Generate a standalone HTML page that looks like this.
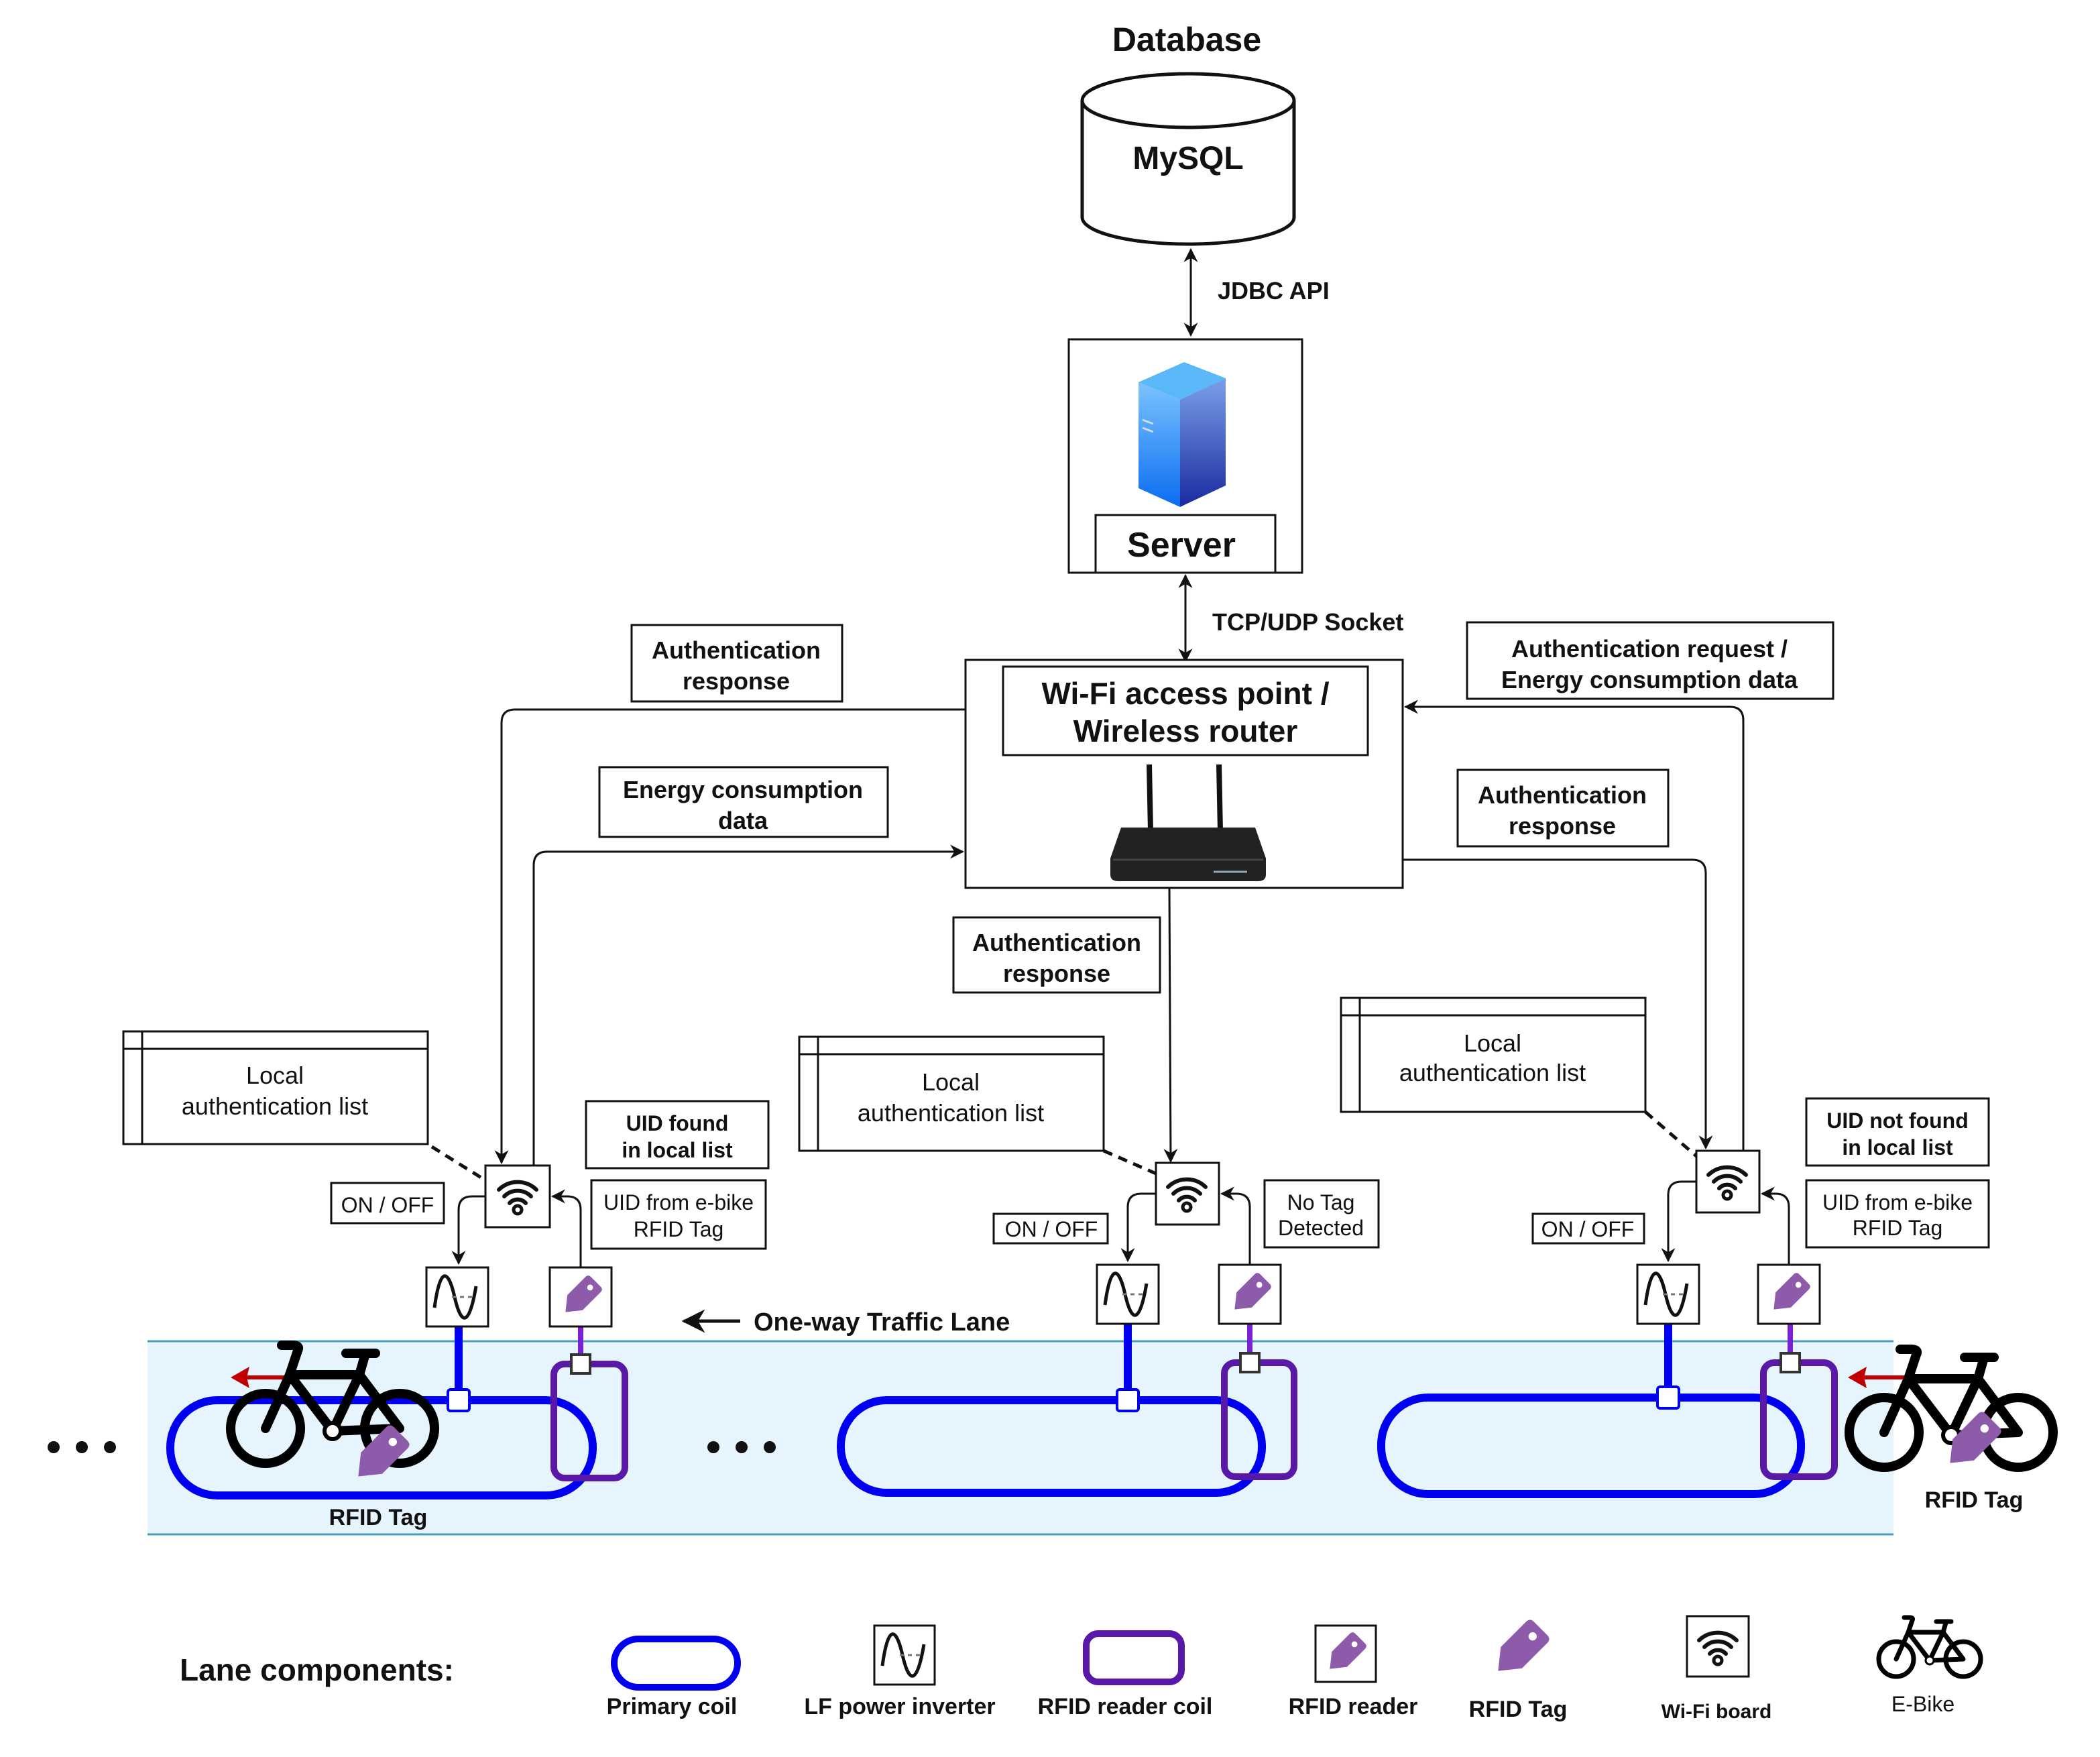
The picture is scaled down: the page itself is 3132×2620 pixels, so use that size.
<!DOCTYPE html>
<html><head><meta charset="utf-8"><style>
html,body{margin:0;padding:0;background:#fff}
svg{display:block}
text{font-family:"Liberation Sans",Arial,sans-serif;fill:#111}
.b{font-weight:bold}
</style></head><body>
<svg width="3132" height="2620" viewBox="0 0 1566 1310" xmlns="http://www.w3.org/2000/svg">
<defs>
<marker id="ar" viewBox="0 0 10 10" refX="9" refY="5" markerWidth="7" markerHeight="7" orient="auto-start-reverse"><path d="M0,0 L10,5 L0,10 L3,5 Z" fill="#111"/></marker>
<linearGradient id="gf" x1="0" y1="0" x2="0" y2="1"><stop offset="0" stop-color="#7aa0e8"/><stop offset="1" stop-color="#1a2aa0"/></linearGradient>
<linearGradient id="gs" x1="0" y1="0" x2="0" y2="1"><stop offset="0" stop-color="#7cc4ff"/><stop offset="1" stop-color="#0a6cf0"/></linearGradient>
<g id="wifi"><path d="M-14,-3 A20,20 0 0 1 14,-3" fill="none" stroke="#111" stroke-width="3" stroke-linecap="round"/><path d="M-10,2 A14,14 0 0 1 10,2" fill="none" stroke="#111" stroke-width="3" stroke-linecap="round"/><path d="M-6,7 A8,8 0 0 1 6,7" fill="none" stroke="#111" stroke-width="3" stroke-linecap="round"/><circle cx="0" cy="12" r="3" fill="none" stroke="#111" stroke-width="2.5"/></g>
<g id="sine"><path d="M-17,8 C-13,-22 -7,-22 -2,0 C3,22 9,22 14,-8" fill="none" stroke="#111" stroke-width="2.5"/><line x1="-4" y1="0" x2="14" y2="0" stroke="#777" stroke-width="1.5" stroke-dasharray="3 3"/></g>
<g id="tag"><g transform="rotate(45)"><path d="M-8,-13 Q-8,-16 -5,-16 L5,-16 Q8,-16 8,-13 L8,6 L0,16 L-8,6 Z" fill="#8e5aaa"/><circle cx="0" cy="-10" r="2.2" fill="#fff"/></g></g>
<g id="bike" fill="none" stroke="#000" stroke-width="7" stroke-linejoin="round" stroke-linecap="round"><circle cx="0" cy="0" r="26"/><circle cx="100" cy="0" r="26"/><path d="M0,0 L50,2 L30,-40 Z"/><path d="M50,2 L82,-40 L30,-40"/><path d="M82,-40 L100,0"/><path d="M30,-40 L26,-54"/><path d="M18,-56 L40,-56"/><path d="M82,-40 L76,-58 Q74,-62 80,-62 L88,-62"/><circle cx="50" cy="2" r="6" stroke-width="3" fill="#fff"/></g>
</defs>

<!-- Database -->
<text x="885" y="38" text-anchor="middle" class="b" font-size="25">Database</text>
<path d="M807,75 L807,162 A79,20 0 0 0 965,162 L965,75" fill="#fff" stroke="#111" stroke-width="2.5"/>
<ellipse cx="886" cy="75" rx="79" ry="20" fill="#fff" stroke="#111" stroke-width="2.5"/>
<text x="886" y="126" text-anchor="middle" class="b" font-size="24">MySQL</text>
<line x1="888" y1="186" x2="888" y2="250" stroke="#111" stroke-width="1.5" marker-start="url(#ar)" marker-end="url(#ar)"/>
<text x="908" y="223" class="b" font-size="18">JDBC API</text>

<!-- Server -->
<rect x="797" y="253" width="174" height="174" fill="#fff" stroke="#111" stroke-width="1.5"/>
<polygon points="849,285 883,270 914,282 880,298" fill="#5ab8f8"/>
<polygon points="849,285 880,298 880,378 849,364" fill="url(#gs)"/>
<polygon points="880,298 914,282 914,362 880,378" fill="url(#gf)"/>
<line x1="852" y1="313" x2="860" y2="316" stroke="#cde" stroke-width="1.5"/><line x1="852" y1="319" x2="860" y2="322" stroke="#cde" stroke-width="1.5"/>
<rect x="817" y="384" width="134" height="43" fill="#fff" stroke="#111" stroke-width="1.5"/>
<text x="881" y="415" text-anchor="middle" class="b" font-size="26">Server</text>
<line x1="884" y1="429" x2="884" y2="493" stroke="#111" stroke-width="1.5" marker-start="url(#ar)" marker-end="url(#ar)"/>
<text x="904" y="470" class="b" font-size="18">TCP/UDP Socket</text>

<!-- Router -->
<rect x="720" y="492" width="326" height="170" fill="#fff" stroke="#111" stroke-width="1.5"/>
<rect x="748" y="497" width="272" height="66" fill="#fff" stroke="#111" stroke-width="1.5"/>
<text x="884" y="525" text-anchor="middle" class="b" font-size="23">Wi-Fi access point /</text>
<text x="884" y="553" text-anchor="middle" class="b" font-size="23">Wireless router</text>
<line x1="857" y1="570" x2="858" y2="620" stroke="#111" stroke-width="4"/>
<line x1="909" y1="570" x2="910" y2="620" stroke="#111" stroke-width="4"/>
<path d="M836,617 L936,617 L944,640 L944,652 Q944,657 938,657 L834,657 Q828,657 828,652 L828,640 Z" fill="#222"/>
<line x1="830" y1="641" x2="942" y2="641" stroke="#444" stroke-width="1.5"/>
<line x1="905" y1="650" x2="930" y2="650" stroke="#8ab" stroke-width="1.5"/>

<!-- Top labels -->
<rect x="471" y="466" width="157" height="57" fill="#fff" stroke="#111" stroke-width="1.5"/>
<text x="549" y="491" text-anchor="middle" class="b" font-size="18">Authentication</text>
<text x="549" y="514" text-anchor="middle" class="b" font-size="18">response</text>
<rect x="447" y="572" width="215" height="52" fill="#fff" stroke="#111" stroke-width="1.5"/>
<text x="554" y="595" text-anchor="middle" class="b" font-size="18">Energy consumption</text>
<text x="554" y="618" text-anchor="middle" class="b" font-size="18">data</text>
<rect x="1094" y="464" width="273" height="57" fill="#fff" stroke="#111" stroke-width="1.5"/>
<text x="1230" y="490" text-anchor="middle" class="b" font-size="18">Authentication request /</text>
<text x="1230" y="513" text-anchor="middle" class="b" font-size="18">Energy consumption data</text>
<rect x="1087" y="574" width="157" height="57" fill="#fff" stroke="#111" stroke-width="1.5"/>
<text x="1165" y="599" text-anchor="middle" class="b" font-size="18">Authentication</text>
<text x="1165" y="622" text-anchor="middle" class="b" font-size="18">response</text>
<rect x="711" y="684" width="154" height="56" fill="#fff" stroke="#111" stroke-width="1.5"/>
<text x="788" y="709" text-anchor="middle" class="b" font-size="18">Authentication</text>
<text x="788" y="732" text-anchor="middle" class="b" font-size="18">response</text>

<!-- Connectors -->
<g fill="none" stroke="#111" stroke-width="1.5">
<path d="M720,529 L384,529 Q374,529 374,539 L374,867" marker-end="url(#ar)"/>
<path d="M398,869 L398,645 Q398,635 408,635 L718,635" marker-end="url(#ar)"/>
<path d="M1300,858 L1300,537 Q1300,527 1290,527 L1048,527" marker-end="url(#ar)"/>
<path d="M1046,641 L1262,641 Q1272,641 1272,651 L1272,856" marker-end="url(#ar)"/>
<path d="M872,662 L873,866" marker-end="url(#ar)"/>
</g>

<!-- Local lists -->
<g fill="#fff" stroke="#111" stroke-width="1.5">
<rect x="92" y="769" width="227" height="84"/><line x1="92" y1="782" x2="319" y2="782"/><line x1="106" y1="769" x2="106" y2="853"/>
<rect x="596" y="773" width="227" height="85"/><line x1="596" y1="786" x2="823" y2="786"/><line x1="610" y1="773" x2="610" y2="858"/>
<rect x="1000" y="744" width="227" height="85"/><line x1="1000" y1="757" x2="1227" y2="757"/><line x1="1014" y1="744" x2="1014" y2="829"/>
</g>
<g font-size="18" text-anchor="middle">
<text x="205" y="808">Local</text><text x="205" y="831">authentication list</text>
<text x="709" y="813">Local</text><text x="709" y="836">authentication list</text>
<text x="1113" y="784">Local</text><text x="1113" y="806">authentication list</text>
</g>
<g stroke="#111" stroke-width="2.5" stroke-dasharray="7 5">
<line x1="322" y1="855" x2="362" y2="880"/><line x1="823" y1="858" x2="862" y2="875"/><line x1="1227" y1="829" x2="1265" y2="862"/>
</g>

<!-- Lane -->
<rect x="110" y="1000" width="1302" height="144" fill="#e6f4fd"/>
<line x1="110" y1="1000" x2="1412" y2="1000" stroke="#4a9cc0" stroke-width="1.5"/>
<line x1="110" y1="1144" x2="1412" y2="1144" stroke="#4a9cc0" stroke-width="1.5"/>

<!-- Units -->
<g font-size="16" text-anchor="middle">
<!-- unit 1 -->
<rect x="247" y="882" width="84" height="30" fill="#fff" stroke="#111" stroke-width="1.5"/><text x="289" y="904">ON / OFF</text>
<rect x="437" y="821" width="136" height="50" fill="#fff" stroke="#111" stroke-width="1.5"/><text x="505" y="843" class="b">UID found</text><text x="505" y="863" class="b">in local list</text>
<rect x="441" y="880" width="130" height="51" fill="#fff" stroke="#111" stroke-width="1.5"/><text x="506" y="902">UID from e-bike</text><text x="506" y="922">RFID Tag</text>
<!-- unit 2 -->
<rect x="741" y="905" width="85" height="22" fill="#fff" stroke="#111" stroke-width="1.5"/><text x="784" y="922">ON / OFF</text>
<rect x="943" y="880" width="85" height="50" fill="#fff" stroke="#111" stroke-width="1.5"/><text x="985" y="902">No Tag</text><text x="985" y="921">Detected</text>
<!-- unit 3 -->
<rect x="1143" y="905" width="83" height="22" fill="#fff" stroke="#111" stroke-width="1.5"/><text x="1184" y="922">ON / OFF</text>
<rect x="1347" y="819" width="136" height="50" fill="#fff" stroke="#111" stroke-width="1.5"/><text x="1415" y="841" class="b">UID not found</text><text x="1415" y="861" class="b">in local list</text>
<rect x="1347" y="880" width="136" height="50" fill="#fff" stroke="#111" stroke-width="1.5"/><text x="1415" y="902">UID from e-bike</text><text x="1415" y="921">RFID Tag</text>
</g>

<!-- coils -->
<g fill="none" stroke="#0000f0" stroke-width="6">
<rect x="127" y="1044" width="315" height="71" rx="35"/>
<rect x="627" y="1044" width="314" height="69" rx="34"/>
<rect x="1030" y="1042" width="313" height="72" rx="35"/>
<line x1="342" y1="989" x2="342" y2="1044"/><line x1="841" y1="987" x2="841" y2="1044"/><line x1="1244" y1="987" x2="1244" y2="1042"/>
</g>
<g fill="none" stroke="#5a18a8" stroke-width="5">
<rect x="413" y="1017" width="53" height="85" rx="8"/>
<rect x="913" y="1016" width="52" height="85" rx="8"/>
<rect x="1315" y="1016" width="53" height="85" rx="8"/>
</g>
<g stroke="#7a22d0" stroke-width="4"><line x1="433" y1="989" x2="433" y2="1017"/><line x1="932" y1="987" x2="932" y2="1016"/><line x1="1335" y1="987" x2="1335" y2="1016"/></g>
<g fill="#fff" stroke-width="2">
<rect x="334" y="1036" width="16" height="16" rx="2" stroke="#0000f0"/><rect x="833" y="1036" width="16" height="16" rx="2" stroke="#0000f0"/><rect x="1236" y="1034" width="16" height="16" rx="2" stroke="#0000f0"/>
<rect x="426" y="1010" width="14" height="14" stroke="#333"/><rect x="925" y="1009" width="14" height="14" stroke="#333"/><rect x="1328" y="1009" width="14" height="14" stroke="#333"/>
</g>

<!-- boxes: wifi, inverter, reader -->
<g fill="#fff" stroke="#111" stroke-width="1.5">
<rect x="362" y="869" width="48" height="46"/><rect x="862" y="867" width="47" height="46"/><rect x="1265" y="858" width="47" height="46"/>
<rect x="318" y="945" width="46" height="44"/><rect x="818" y="943" width="46" height="44"/><rect x="1221" y="943" width="46" height="44"/>
<rect x="410" y="945" width="46" height="44"/><rect x="909" y="943" width="46" height="44"/><rect x="1311" y="943" width="46" height="44"/>
</g>
<use href="#wifi" x="386" y="890"/><use href="#wifi" x="885" y="888"/><use href="#wifi" x="1288" y="879"/>
<use href="#sine" x="341" y="967"/><use href="#sine" x="841" y="965"/><use href="#sine" x="1244" y="965"/>
<use href="#tag" x="433" y="967"/><use href="#tag" x="932" y="965"/><use href="#tag" x="1334" y="965"/>
<g fill="none" stroke="#111" stroke-width="1.5">
<path d="M362,892 L352,892 Q342,892 342,902 L342,942" marker-end="url(#ar)"/>
<path d="M433,945 L433,902 Q433,892 423,892 L412,892" marker-end="url(#ar)"/>
<path d="M862,890 L851,890 Q841,890 841,900 L841,940" marker-end="url(#ar)"/>
<path d="M932,943 L932,900 Q932,890 922,890 L911,890" marker-end="url(#ar)"/>
<path d="M1265,881 L1254,881 Q1244,881 1244,891 L1244,940" marker-end="url(#ar)"/>
<path d="M1334,943 L1334,900 Q1334,890 1324,890 L1314,890" marker-end="url(#ar)"/>
</g>

<!-- traffic -->
<line x1="552" y1="985" x2="510" y2="985" stroke="#111" stroke-width="2.5" marker-end="url(#ar)"/>
<text x="562" y="992" class="b" font-size="19">One-way Traffic Lane</text>
<g fill="#111"><circle cx="40" cy="1079" r="4.5"/><circle cx="61" cy="1079" r="4.5"/><circle cx="82" cy="1079" r="4.5"/><circle cx="532" cy="1079" r="4.5"/><circle cx="553" cy="1079" r="4.5"/><circle cx="574" cy="1079" r="4.5"/></g>

<!-- bikes -->
<line x1="218" y1="1027" x2="176" y2="1027" stroke="#c00000" stroke-width="3"/><path d="M172,1027 L186,1019 L184,1027 L186,1035 Z" fill="#c00000"/>
<use href="#bike" transform="translate(298,1065) scale(-1,1)"/>
<use href="#tag" transform="translate(283,1085) scale(1.4)"/>
<text x="282" y="1137" text-anchor="middle" class="b" font-size="17">RFID Tag</text>
<line x1="1422" y1="1027" x2="1382" y2="1027" stroke="#c00000" stroke-width="3"/><path d="M1378,1027 L1392,1019 L1390,1027 L1392,1035 Z" fill="#c00000"/>
<use href="#bike" transform="translate(1505,1068) scale(-1,1)"/>
<use href="#tag" transform="translate(1470,1075) scale(1.4)"/>
<text x="1472" y="1124" text-anchor="middle" class="b" font-size="17">RFID Tag</text>

<!-- Legend -->
<text x="134" y="1253" class="b" font-size="23">Lane components:</text>
<rect x="458" y="1222" width="92" height="36" rx="18" fill="none" stroke="#0000f0" stroke-width="5"/>
<rect x="652" y="1212" width="45" height="44" fill="#fff" stroke="#111" stroke-width="1.5"/><use href="#sine" x="675" y="1234"/>
<rect x="810" y="1218" width="71" height="36" rx="9" fill="none" stroke="#5a18a8" stroke-width="5"/>
<rect x="981" y="1212" width="45" height="42" fill="#fff" stroke="#111" stroke-width="1.5"/><use href="#tag" x="1003" y="1233"/>
<use href="#tag" transform="translate(1133,1230) scale(1.4)"/>
<rect x="1258" y="1205" width="46" height="45" fill="#fff" stroke="#111" stroke-width="1.5"/><use href="#wifi" x="1281" y="1226"/>
<use href="#bike" transform="translate(1464,1237) scale(-0.5,0.5)"/>
<g text-anchor="middle" class="b" font-size="17">
<text x="501" y="1278" class="b">Primary coil</text>
<text x="671" y="1278" class="b">LF power inverter</text>
<text x="839" y="1278" class="b">RFID reader coil</text>
<text x="1009" y="1278" class="b">RFID reader</text>
<text x="1132" y="1280" class="b">RFID Tag</text>
<text x="1280" y="1281" class="b" font-size="15">Wi-Fi board</text>
</g>
<text x="1434" y="1276" text-anchor="middle" font-size="16">E-Bike</text>
</svg>
</body></html>
